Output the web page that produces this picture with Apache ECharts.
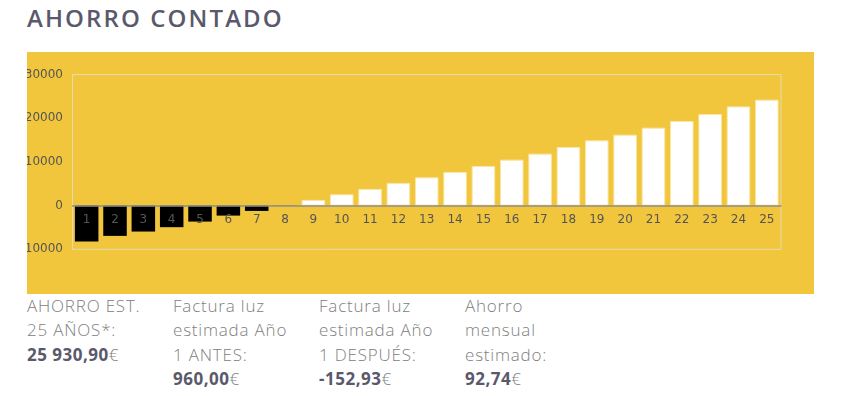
<!DOCTYPE html>
<html>
<head>
<meta charset="utf-8">
<script src="https://cdn.jsdelivr.net/npm/echarts@6/dist/echarts.min.js"></script>
<style>
  html, body { margin: 0; padding: 0; background: #fff; width: 845px; height: 396px; overflow: hidden; }
  #title { position: absolute; left: 27px; top: 1px; font-family: "Open Sans", sans-serif; font-weight: 600; font-size: 24px; color: #5a596c; letter-spacing: 2.1px; white-space: nowrap; }
  #chart { position: absolute; left: 27px; top: 52px; width: 787px; height: 242px; background: #F1C63C; }
  .col { position: absolute; top: 294px; font-family: "Open Sans", sans-serif; font-weight: 300; font-size: 17px; line-height: 24.4px; color: #808080; letter-spacing: 0.8px; white-space: nowrap; }
  .col b { font-weight: 700; color: #5a596c; letter-spacing: 0.5px; }
</style>
</head>
<body>
<div id="title"></div>
<div id="chart"></div>
<div id="stats"></div>
<script>
const titleText = "AHORRO CONTADO";
const years = ["1","2","3","4","5","6","7","8","9","10","11","12","13","14","15","16","17","18","19","20","21","22","23","24","25"];
const savings = [-8230,-6930,-5940,-4940,-3660,-2290,-1220,-50,1300,2580,3820,5190,6470,7700,9070,10510,11890,13420,14930,16230,17830,19350,20950,22700,24230];
const yTicks = { min: -10000, max: 30000, step: 10000 };
const statLabels = [
  ["AHORRO EST.", "25 AÑOS*:"],
  ["Factura luz", "estimada Año", "1 ANTES:"],
  ["Factura luz", "estimada Año", "1 DESPUÉS:"],
  ["Ahorro", "mensual", "estimado:"]
];
const statValues = ["25 930,90", "960,00", "-152,93", "92,74"];

document.getElementById('title').textContent = titleText;
const stats = document.getElementById('stats');
const colX = [27, 173, 319, 465];
statLabels.forEach((lines, i) => {
  const d = document.createElement('div');
  d.className = 'col';
  d.style.left = colX[i] + 'px';
  lines.forEach(l => { d.appendChild(document.createTextNode(l)); d.appendChild(document.createElement('br')); });
  const b = document.createElement('b');
  b.textContent = statValues[i];
  d.appendChild(b);
  d.appendChild(document.createTextNode('€'));
  stats.appendChild(d);
});

const H = 242, gTop = 22.5, gBottom = 44.7;
const plotH = H - gTop - gBottom;
const zeroFromBottom = plotH * (0 - yTicks.min) / (yTicks.max - yTicks.min);

const chart = echarts.init(document.getElementById('chart'), null, { renderer: 'canvas' });
chart.setOption({
  animation: false,
  grid: { left: 45.5, right: 33, top: gTop, bottom: gBottom, containLabel: false, outerBoundsMode: 'none', show: true, borderColor: '#e6dbb0', borderWidth: 1 },
  xAxis: {
    type: 'category', data: years, z: 5,
    offset: -zeroFromBottom,
    axisLine: { onZero: false, lineStyle: { color: '#8f8f8f', width: 1.5 } },
    axisTick: { show: false },
    axisLabel: { color: '#555', fontSize: 12, fontFamily: 'DejaVu Sans', margin: 8 }
  },
  yAxis: {
    type: 'value', min: yTicks.min, max: yTicks.max, interval: yTicks.step,
    axisLine: { show: false }, axisTick: { show: false }, splitLine: { show: false },
    axisLabel: { color: '#555', fontSize: 12, fontFamily: 'DejaVu Sans', margin: 9.5, formatter: v => String(v) }
  },
  series: [{
    type: 'bar',
    barCategoryGap: '17%',
    data: savings.map(v => ({
      value: v,
      itemStyle: v < 0 ? { color: '#000' } : { color: '#fff', borderColor: '#f8e6a6', borderWidth: 1 }
    }))
  }]
});
</script>
</body>
</html>
